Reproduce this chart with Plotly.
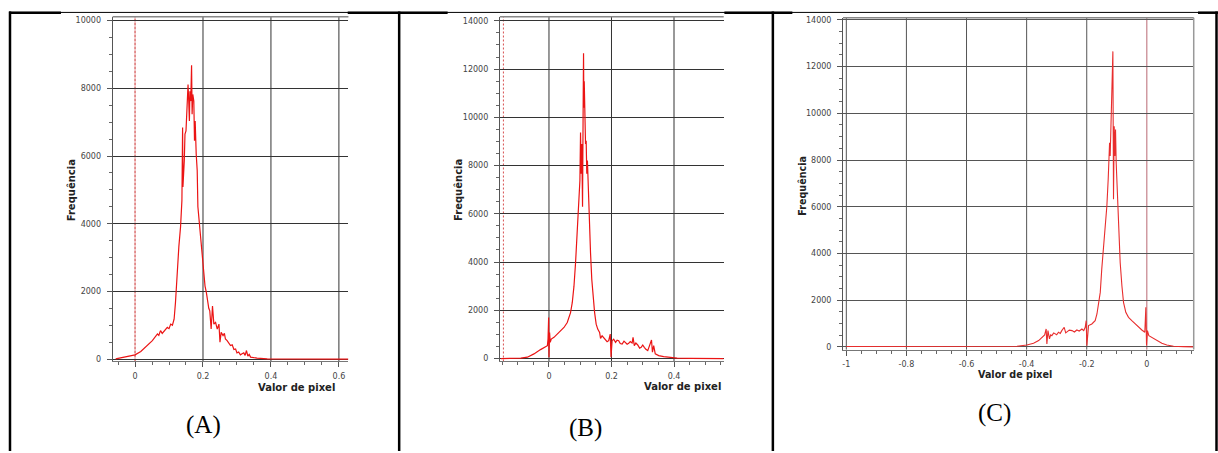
import plotly.graph_objects as go

# ---------------- data ----------------
A_x = [-0.057, -0.042, -0.0225, 0.0, 0.017, 0.036, 0.051, 0.066, 0.070, 0.073, 0.075, 0.080, 0.085, 0.090,
       0.095, 0.100, 0.105, 0.110, 0.115,
       0.119, 0.124, 0.129, 0.134, 0.138, 0.140, 0.141, 0.145, 0.147, 0.150, 0.153, 0.156, 0.158, 0.160,
       0.1615, 0.164, 0.1664, 0.168, 0.170, 0.173, 0.175, 0.177, 0.180, 0.183, 0.185, 0.189, 0.193, 0.196,
       0.199, 0.203, 0.206, 0.210, 0.214, 0.217, 0.220, 0.224, 0.228, 0.232, 0.237, 0.242, 0.247, 0.250,
       0.2535, 0.259, 0.263, 0.266, 0.271, 0.276, 0.281, 0.286, 0.291, 0.296, 0.300, 0.305, 0.310, 0.315,
       0.320, 0.324, 0.328, 0.332, 0.336, 0.340, 0.359, 0.389, 0.438, 0.500, 0.628]
A_y = [10, 40, 78, 127, 224, 400, 547, 742, 700, 790, 840, 760, 810, 860,
       937, 900, 1035, 1000, 1180,
       1670, 2550, 3330, 3914, 4690, 6840, 5085, 5866, 6646, 6744, 7818, 8110, 7622, 7037,
       7915, 7622, 8677, 7232, 7818, 7622, 6451, 7037, 6061, 5573, 4500, 4011, 3621, 3133,
       2840, 2352, 2157, 1962, 1669, 1500, 1425, 888, 1571, 1035, 1083, 888, 1035, 498,
       790, 693, 760, 595, 547, 480, 400, 420, 283, 300, 185, 210, 127, 160,
       185, 110, 254, 88, 140, 59, 29, 10, 5, 2, 0]

B_x = [-0.154, -0.090, -0.069, -0.048, -0.027, -0.011, -0.005, -0.003, -0.001, 0.0, 0.002, 0.004, 0.0074,
       0.016, 0.027, 0.037, 0.048, 0.0585, 0.064, 0.069, 0.0745, 0.080, 0.085, 0.090, 0.0947, 0.099,
       0.101, 0.103, 0.105, 0.1074, 0.1096, 0.1106, 0.1117, 0.1128, 0.115, 0.117, 0.119, 0.121, 0.123,
       0.1255, 0.129, 0.133, 0.137, 0.1415, 0.146, 0.151, 0.156, 0.162, 0.165, 0.170, 0.175, 0.181, 0.186,
       0.191, 0.196, 0.1985, 0.202, 0.207, 0.213, 0.218, 0.223, 0.228, 0.234, 0.240, 0.245, 0.250, 0.255,
       0.260, 0.266, 0.269, 0.273, 0.278, 0.284, 0.290, 0.295, 0.300, 0.305, 0.310, 0.316, 0.320, 0.324,
       0.328, 0.331, 0.335, 0.340, 0.351, 0.367, 0.388, 0.410, 0.452, 0.559]
B_y = [0, 14, 55, 192, 370, 466, 534, 808, 1700, 55, 1082, 671, 808,
       877, 1014, 1151, 1288, 1493, 1700, 1904, 2315, 3000, 3959, 5192, 6014, 7384,
       9370, 7658, 8891, 6288, 10946, 12659, 10398, 11494, 9302, 8891, 9028, 7658, 8206,
       7110, 5877, 4370, 3274, 2452, 1904, 1425, 1219, 1082, 836, 945, 860, 781, 700,
       740, 1014, 55, 740, 800, 671, 760, 740, 620, 603, 720, 671, 590, 630,
       700, 644, 877, 534, 640, 562, 430, 466, 560, 466, 380, 329, 480, 603,
       767, 260, 534, 192, 123, 82, 41, 14, 3, 0]

C_x = [-1.0, -0.8, -0.6, -0.432, -0.399, -0.377, -0.360, -0.349, -0.340, -0.335, -0.3326, -0.329, -0.324,
       -0.320, -0.316, -0.310, -0.305, -0.300, -0.294, -0.288, -0.283, -0.275, -0.270, -0.266, -0.258,
       -0.249, -0.241, -0.233, -0.225, -0.216, -0.210, -0.205, -0.2018, -0.1996,
       -0.194, -0.183, -0.172, -0.166, -0.161, -0.155, -0.150, -0.144, -0.1386, -0.133, -0.1286, -0.124,
       -0.122, -0.1197, -0.1175, -0.1153, -0.113, -0.1109, -0.1086, -0.1064, -0.1042, -0.102, -0.0976,
       -0.093, -0.0887, -0.083, -0.0776, -0.070, -0.061, -0.050, -0.039, -0.0277, -0.0166, -0.0067,
       -0.0033, -0.001, 0.002, 0.0067, 0.0166, 0.0333, 0.0499, 0.0665, 0.0887, 0.122, 0.156]
C_y = [15, 15, 15, 28, 85, 156, 270, 413, 512, 768, 128, 697, 341,
       520, 484, 600, 555, 520, 626, 580, 697, 840, 600, 655, 720,
       697, 640, 726, 680, 768, 700, 840, 1124, 57,
       911, 982, 1124, 1409, 1765, 2334, 3330, 4326, 5037, 6033, 7172, 8737,
       8168, 9591, 10160, 11583, 12650, 6318, 9449, 8168, 9306, 7883, 6318,
       4753, 3614, 2618, 1907, 1480, 1266, 1124, 982, 840, 726, 626,
       1693, 57, 697, 484, 413, 270, 156, 85, 28, 14, 0]

A_xticks = [0, 0.2, 0.4, 0.6]
A_xlabels = ["0", "0.2", "0.4", "0.6"]
A_yticks = [0, 2000, 4000, 6000, 8000, 10000]
B_xticks = [0, 0.2, 0.4]
B_xlabels = ["0", "0.2", "0.4"]
BC_yticks = [0, 2000, 4000, 6000, 8000, 10000, 12000, 14000]
C_xticks = [-1, -0.8, -0.6, -0.4, -0.2, 0]
C_xlabels = ["-1", "-0.8", "-0.6", "-0.4", "-0.2", "0"]

panel_labels = ["(A)", "(B)", "(C)"]
x_title = "Valor de pixel"
y_title = "Frequência"

# ---------------- layout helpers ----------------
W, H = 1218, 453
def fx(p):
    return p / W
def fy(p):
    return 1 - p / H

fig = go.Figure()
fig.add_trace(go.Scatter(x=A_x, y=A_y, mode="lines", line=dict(color="rgb(235,20,20)", width=1.2),
                         xaxis="x", yaxis="y", showlegend=False))
fig.add_trace(go.Scatter(x=B_x, y=B_y, mode="lines", line=dict(color="rgb(235,20,20)", width=1.2),
                         xaxis="x2", yaxis="y2", showlegend=False))
fig.add_trace(go.Scatter(x=C_x, y=C_y, mode="lines", line=dict(color="rgb(232,45,45)", width=1.1),
                         xaxis="x3", yaxis="y3", showlegend=False))

tickfont = dict(family="DejaVu Sans", size=8, color="#444")

def xax(dom, rng, tv, tt, anchor):
    return dict(domain=dom, range=rng, tickmode="array", tickvals=tv, ticktext=tt, anchor=anchor,
                showline=True, linecolor="#777", linewidth=1, ticks="outside", ticklen=5,
                tickcolor="#555", tickwidth=1, showgrid=False,
                zeroline=False, tickfont=tickfont, ticklabelstandoff=2,
                minor=dict(tickmode="linear", tick0=0, dtick=0.05, ticks="outside", ticklen=3,
                           tickcolor="#666", showgrid=False), fixedrange=True)

def yax(dom, rng, tv, grid, anchor):
    return dict(domain=dom, range=rng, tickmode="array", tickvals=tv, ticktext=[str(v) for v in tv],
                showline=True, linecolor="#555", linewidth=1, ticks="outside", ticklen=5,
                tickcolor="#555", tickwidth=1, showgrid=True, gridcolor=grid, gridwidth=1,
                zeroline=False, tickfont=tickfont, ticklabelstandoff=4, anchor=anchor,
                minor=dict(tickmode="linear", tick0=0, dtick=500, ticks="outside", ticklen=3,
                           tickcolor="#666", showgrid=False), fixedrange=True)

fig.update_layout(
    width=W, height=H, autosize=False,
    margin=dict(l=0, r=0, t=0, b=0, pad=0),
    paper_bgcolor="white", plot_bgcolor="white",
    xaxis=xax([fx(111.7), fx(347.7)], [-0.066, 0.628], A_xticks, A_xlabels, "y"),
    yaxis=yax([fy(362.7), fy(15)], [-70, 10110], A_yticks, "#333", "x"),
    xaxis2=xax([fx(499.3), fx(723.3)], [-0.157, 0.559], B_xticks, B_xlabels, "y2"),
    yaxis2=yax([fy(362.7), fy(15)], [-123, 14164], BC_yticks, "#333", "x2"),
    xaxis3=xax([fx(842.7), fx(1193.7)], [-1.011, 0.156], C_xticks, C_xlabels, "y3"),
    yaxis3=yax([fy(350.7), fy(16)], [-115, 14085], BC_yticks, "#555", "x3"),
)

shapes = []
# vertical grid lines (drawn as shapes so that marker lines can replace some of them)
for xr, yr, ticks, col, skip in [("x", "y", A_xticks, "#333", [0]),
                                 ("x2", "y2", B_xticks, "#333", []),
                                 ("x3", "y3", C_xticks, "#555", [0])]:
    for t in ticks:
        if t in skip:
            continue
        shapes.append(dict(type="line", xref=xr, yref=yr + " domain", x0=t, x1=t, y0=0, y1=1,
                           line=dict(color=col, width=1), layer="below"))

# red marker lines
shapes.append(dict(type="line", xref="x", yref="y domain", x0=0, x1=0, y0=0, y1=1,
                   line=dict(color="rgb(200,40,40)", width=1, dash="3px,1px"), layer="below"))
shapes.append(dict(type="line", xref="x2", yref="y2 domain", x0=-0.1457, x1=-0.1457, y0=0, y1=1,
                   line=dict(color="rgb(215,80,80)", width=1, dash="2px,2px"), layer="below"))
shapes.append(dict(type="line", xref="x3", yref="y3 domain", x0=0, x1=0, y0=0, y1=1,
                   line=dict(color="rgb(185,105,115)", width=1), layer="below"))

# top frame lines (double line look) and right frame for C
for xr, yr in [("x", "y"), ("x2", "y2"), ("x3", "y3")]:
    shapes.append(dict(type="line", xref=xr + " domain", yref=yr + " domain", x0=0, x1=1, y0=1, y1=1,
                       line=dict(color="#888", width=1.5), layer="above"))
shapes.append(dict(type="line", xref="x3 domain", yref="y3 domain", x0=1, x1=1, y0=0, y1=1,
                   line=dict(color="#999", width=1.5), layer="above"))

# table borders
blk = dict(color="black", width=2.5)
for xv in [9, 398.5, 772.5, 1216.5]:
    shapes.append(dict(type="line", xref="paper", yref="paper", x0=fx(xv), x1=fx(xv),
                       y0=fy(9.5), y1=0, line=blk, layer="above"))
shapes.append(dict(type="line", xref="paper", yref="paper", x0=fx(8), x1=1, y0=fy(10.5), y1=fy(10.5),
                   line=dict(color="black", width=1), layer="above"))
for a, b in [(8, 60), (347, 447), (724, 792), (1198, 1218)]:
    shapes.append(dict(type="line", xref="paper", yref="paper", x0=fx(a), x1=fx(b), y0=fy(10.8), y1=fy(10.8),
                       line=dict(color="black", width=2.5), layer="above"))
fig.update_layout(shapes=shapes)

ann = []
for (xx, yy, sz) in [(70, 190, 10), (458, 190, 10), (802, 185, 9.6)]:
    ann.append(dict(x=fx(xx), y=fy(yy), xref="paper", yref="paper", text="<b>%s</b>" % y_title,
                    textangle=-90, showarrow=False, xanchor="center", yanchor="middle",
                    font=dict(family="DejaVu Sans", size=sz, color="#222")))
for (xx, yy, sz) in [(295.5, 389, 10), (682.5, 388, 10), (1015, 376, 9.6)]:
    ann.append(dict(x=fx(xx), y=fy(yy), xref="paper", yref="paper", text="<b>%s</b>" % x_title,
                    showarrow=False, xanchor="center", yanchor="middle",
                    font=dict(family="DejaVu Sans", size=sz, color="#222")))
for lab, (xx, yy) in zip(panel_labels, [(203, 427), (585, 430), (994, 415)]):
    ann.append(dict(x=fx(xx), y=fy(yy), xref="paper", yref="paper", text=lab, showarrow=False,
                    xanchor="center", yanchor="middle",
                    font=dict(family="Liberation Serif, Times New Roman, serif", size=25, color="black")))
fig.update_layout(annotations=ann)

fig.write_html("out.html")
